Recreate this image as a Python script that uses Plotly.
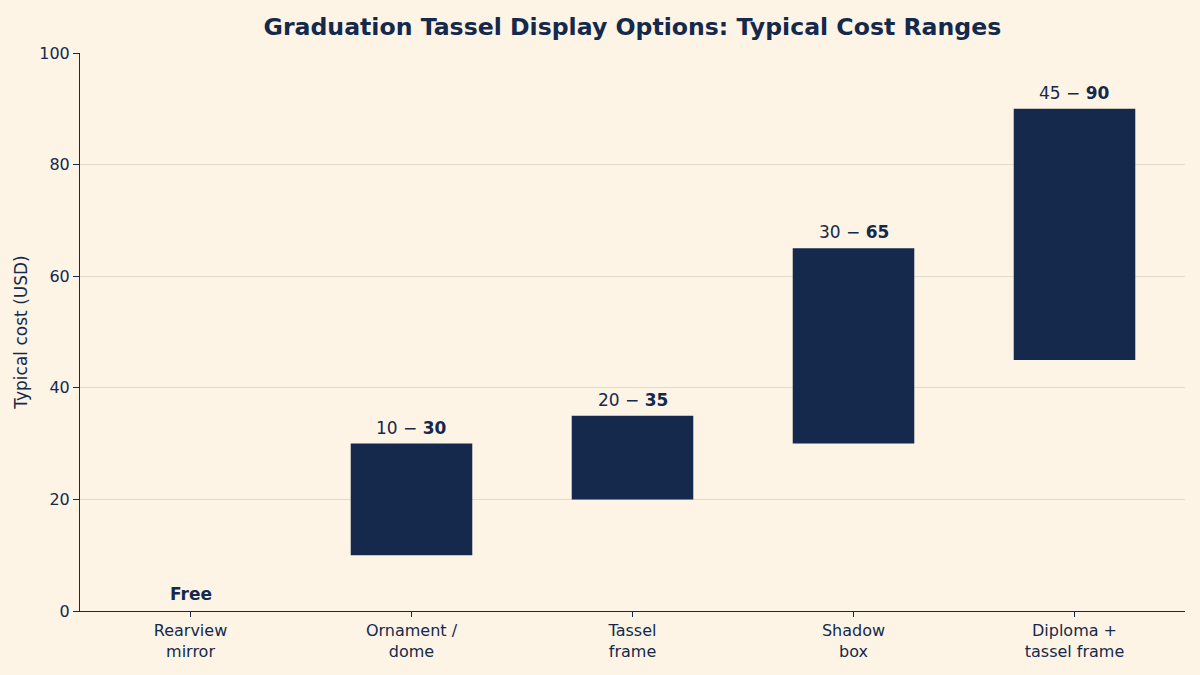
import plotly.graph_objects as go

categories = ["Rearview<br>mirror", "Ornament /<br>dome", "Tassel<br>frame", "Shadow<br>box", "Diploma +<br>tassel frame"]
low_cost = [0, 10, 20, 30, 45]
high_cost = [0, 30, 35, 65, 90]
range_labels = ["<b>Free</b>", "10 − <b>30</b>", "20 − <b>35</b>", "30 − <b>65</b>", "45 − <b>90</b>"]

navy = "#14294b"
bg = "#fdf4e6"

fig = go.Figure()
fig.add_trace(go.Bar(
    x=list(range(len(categories))),
    y=[h - l for h, l in zip(high_cost, low_cost)],
    base=low_cost,
    marker=dict(color=navy, line=dict(width=0)),
    width=0.55,
    showlegend=False,
    hoverinfo="skip",
))

for i, (h, lab) in enumerate(zip(high_cost, range_labels)):
    fig.add_annotation(
        x=i, y=h, text=lab, showarrow=False, yanchor="bottom", yshift=4 if h > 0 else 5,
        font=dict(family="DejaVu Sans", size=17, color=navy),
    )

fig.update_layout(
    width=1200, height=675,
    paper_bgcolor=bg, plot_bgcolor=bg,
    margin=dict(l=80, r=15, t=53, b=64),
    font=dict(family="DejaVu Sans", color=navy),
    title=dict(text="<b>Graduation Tassel Display Options: Typical Cost Ranges</b>",
               x=0.527, xanchor="center", y=0.96, yanchor="middle",
               font=dict(size=23.6, color=navy)),
    xaxis=dict(
        tickmode="array", tickvals=list(range(len(categories))), ticktext=categories,
        range=[-0.5, 4.5], showgrid=False, zeroline=False,
        showline=True, linecolor=navy, linewidth=1,
        ticks="outside", ticklen=5, tickcolor=navy,
        tickfont=dict(size=16, color=navy),
    ),
    yaxis=dict(
        range=[0, 100], tickvals=[0, 20, 40, 60, 80, 100],
        showgrid=True, gridcolor="#e0dbd0", gridwidth=1, zeroline=False,
        showline=True, linecolor=navy, linewidth=1,
        ticks="outside", ticklen=6, tickcolor=navy,
        tickfont=dict(size=16, color=navy),
        title=dict(text="Typical cost (USD)", font=dict(size=17, color=navy), standoff=7),
    ),
)

fig.write_html("out.html")
